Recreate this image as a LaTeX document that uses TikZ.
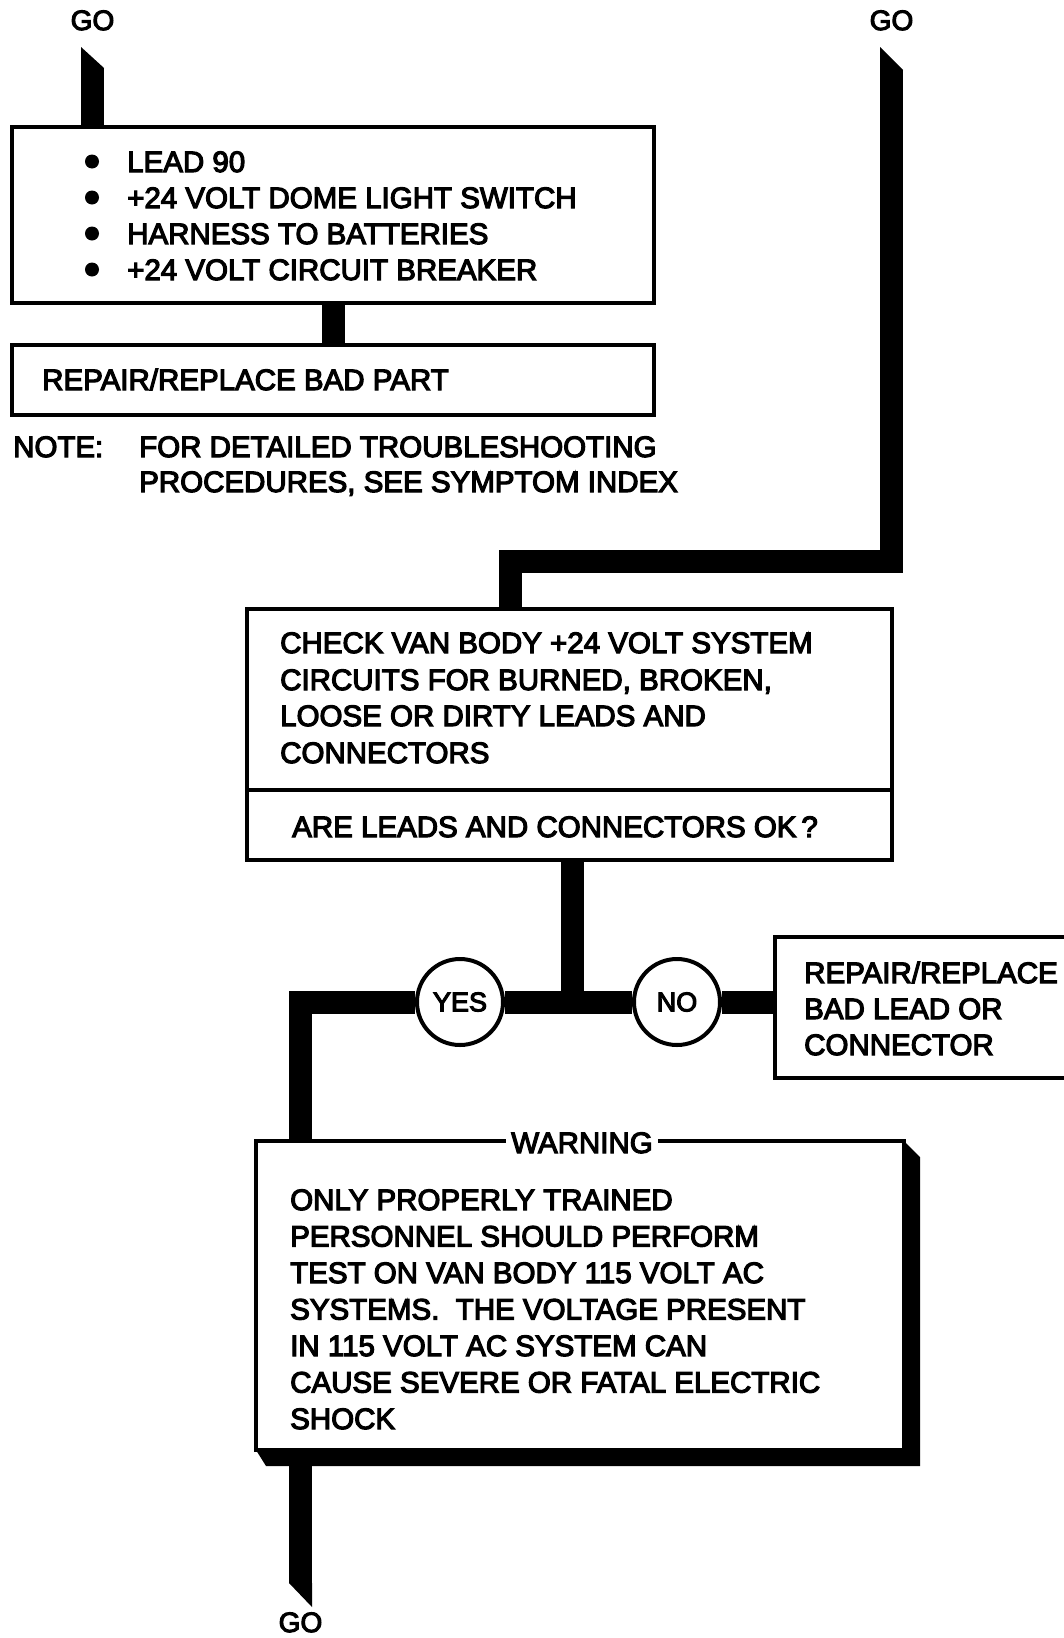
\documentclass[tikz,border=0pt]{standalone}
\usepackage{fontspec}
\setmainfont{Liberation Sans}[FakeBold=4]
\begin{document}
\begin{tikzpicture}[x=1pt,y=-1pt,
  box/.style={draw,line width=4pt,inner sep=0pt,fill=white},
  conn/.style={line width=23pt,line join=miter},
  txt/.style={anchor=base west,inner sep=0pt,font=\fontsize{29.5}{36}\selectfont},
  gotxt/.style={anchor=base,inner sep=0pt,font=\fontsize{28}{30}\selectfont},
  circ/.style={circle,draw,line width=4pt,fill=white,minimum size=86pt,inner sep=0pt,font=\fontsize{27}{30}\selectfont},
  bullet/.style={circle,fill,inner sep=0pt,minimum size=14pt}]
\useasboundingbox (0,0) rectangle (1064,1638);

% ---------- top left branch ----------
\node[gotxt] (go1) at (92.5,30) {GO};
\node[box,minimum width=642pt,minimum height=176pt] (box1) at (333,215) {};
\coordinate (t1) at (92.5,68);
\draw[conn] (t1) -- (t1 |- box1.north);
\fill (81,68) -- (81,47) -- (104,68) -- cycle;

\node[bullet] (bu1) at (92,161.5) {};
\node[bullet] (bu2) at (92,197.5) {};
\node[bullet] (bu3) at (92,233.5) {};
\node[bullet] (bu4) at (92,269.5) {};
\node[txt] (b1l1) at (127,172) {LEAD 90};
\node[txt] (b1l2) at (127,208) {+24 VOLT DOME LIGHT SWITCH};
\node[txt] (b1l3) at (127,244) {HARNESS TO BATTERIES};
\node[txt] (b1l4) at (127,280) {+24 VOLT CIRCUIT BREAKER};

\node[box,minimum width=642pt,minimum height=70pt] (box2) at (333,380) {};
\draw[conn] (box1.south) -- (box2.north);
\node[txt] (b2l1) at (42,390) {REPAIR/REPLACE BAD PART};

\node[txt] (note) at (13,457) {NOTE:};
\node[txt] (n1) at (139,457) {FOR DETAILED TROUBLESHOOTING};
\node[txt] (n2) at (139,492) {PROCEDURES, SEE SYMPTOM INDEX};

% ---------- right branch ----------
\node[gotxt] (go2) at (891.5,30) {GO};
\node[box,minimum width=645pt,minimum height=251pt] (box3) at (569.5,734.5) {};
\coordinate (t2) at (891.5,70);
\coordinate (j2) at (510.5,561.5);
\draw[conn] (t2) |- (j2) -- (j2 |- box3.north);
\fill (880,70) -- (880,47) -- (903,70) -- cycle;
\draw[line width=4pt] (box3.west |- 0,790) -- (box3.east |- 0,790);

\node[txt] (b3l1) at (280,653) {CHECK VAN BODY +24 VOLT SYSTEM};
\node[txt] (b3l2) at (280,690) {CIRCUITS FOR BURNED, BROKEN,};
\node[txt] (b3l3) at (280,726) {LOOSE OR DIRTY LEADS AND};
\node[txt] (b3l4) at (280,763) {CONNECTORS};
\node[txt] (b3q) at (292,837) {ARE LEADS AND CONNECTORS OK\,?};

% ---------- decision ----------
\node[circ] (yes) at (460,1002) {YES};
\node[circ] (no) at (677,1002) {NO};
\node[box,minimum width=313pt,minimum height=141pt] (box4) at (931.5,1007.5) {};
\node[txt] (b4l1) at (804,983) {REPAIR/REPLACE};
\node[txt] (b4l2) at (804,1019) {BAD LEAD OR};
\node[txt] (b4l3) at (804,1055) {CONNECTOR};

\coordinate (j3) at (572,1002);
\coordinate (jl) at (300.5,1002);
\draw[conn] (j3 |- box3.south) -- (j3);
\draw[conn] (yes.east) -- (no.west);
\draw[conn] (no.east) -- (no.east -| box4.west);

% ---------- warning ----------
\fill (904,1141) -- (920,1157) -- (920,1466) -- (266,1466) -- (256,1450) -- (904,1450) -- cycle;
\node[box,line width=3.5pt,minimum width=648pt,minimum height=309pt] (warn) at (580,1295.5) {};
\draw[conn] (yes.west) -| (jl |- warn.north);
\node[txt,anchor=base,fill=white,inner xsep=5pt,inner ysep=2pt] (wtitle) at (582,1153) {WARNING};

\node[txt] (w1) at (290,1210) {ONLY PROPERLY TRAINED};
\node[txt] (w2) at (290,1246.5) {PERSONNEL SHOULD PERFORM};
\node[txt] (w3) at (290,1283) {TEST ON VAN BODY 115 VOLT AC};
\node[txt] (w4) at (290,1319.5) {SYSTEMS.\ \ THE VOLTAGE PRESENT};
\node[txt] (w5) at (290,1356) {IN 115 VOLT AC SYSTEM CAN};
\node[txt] (w6) at (290,1392.5) {CAUSE SEVERE OR FATAL ELECTRIC};
\node[txt] (w7) at (290,1429) {SHOCK};

% ---------- bottom exit ----------
\coordinate (b1) at (300.5,1583);
\draw[conn] (warn.south -| b1) -- (b1);
\fill (289,1583) -- (312,1583) -- (312,1607) -- cycle;
\node[gotxt] (go3) at (300.5,1632) {GO};
\end{tikzpicture}
\end{document}
